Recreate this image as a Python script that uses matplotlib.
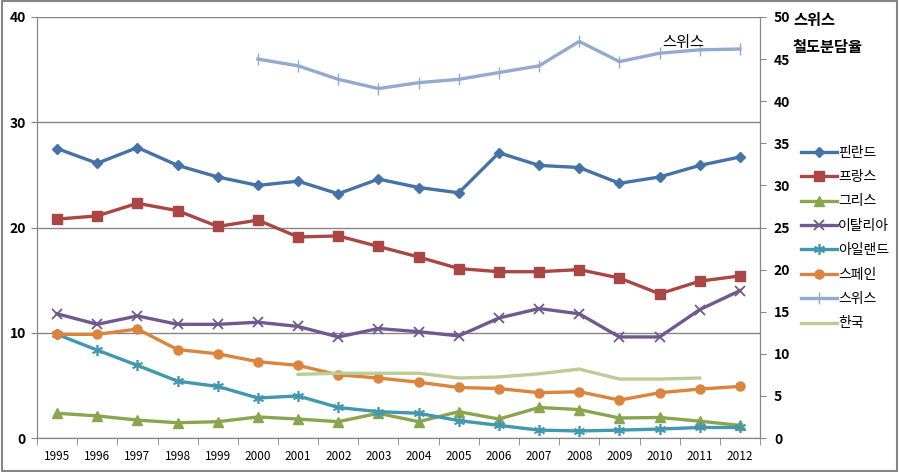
import matplotlib
matplotlib.use("Agg")
import matplotlib.pyplot as plt
from matplotlib.patches import Rectangle

plt.rcParams['font.family'] = ['Noto Sans CJK KR', 'DejaVu Sans']

years = list(range(1995, 2013))

finland = [27.5, 26.1, 27.6, 25.9, 24.8, 24.0, 24.4, 23.2, 24.6, 23.8, 23.3, 27.1, 25.9, 25.7, 24.2, 24.8, 25.9, 26.7]
france = [20.8, 21.1, 22.3, 21.6, 20.1, 20.7, 19.1, 19.2, 18.2, 17.2, 16.1, 15.8, 15.8, 16.0, 15.2, 13.7, 14.9, 15.4]
greece = [2.35, 2.1, 1.7, 1.45, 1.55, 2.0, 1.8, 1.55, 2.35, 1.55, 2.5, 1.8, 2.9, 2.7, 1.9, 1.95, 1.6, 1.2]
italy = [11.8, 10.8, 11.6, 10.8, 10.8, 11.0, 10.6, 9.6, 10.4, 10.1, 9.7, 11.4, 12.3, 11.8, 9.6, 9.6, 12.2, 14.0]
ireland = [9.85, 8.35, 6.9, 5.4, 4.9, 3.8, 4.0, 2.9, 2.5, 2.35, 1.65, 1.2, 0.75, 0.67, 0.75, 0.85, 1.0, 1.0]
spain = [9.85, 9.85, 10.35, 8.4, 8.0, 7.25, 6.9, 6.0, 5.7, 5.3, 4.8, 4.7, 4.3, 4.4, 3.6, 4.3, 4.65, 4.9]

# 스위스 (right axis), 2000-2012
swiss_years = list(range(2000, 2013))
swiss = [45.0, 44.2, 42.6, 41.5, 42.2, 42.6, 43.4, 44.2, 47.1, 44.7, 45.7, 46.1, 46.2]

# 한국, 2001-2011
korea_years = list(range(2001, 2012))
korea = [6.05, 6.15, 6.15, 6.15, 5.7, 5.8, 6.1, 6.55, 5.6, 5.6, 5.7]

x = list(range(len(years)))
xs = [years.index(y) for y in swiss_years]
xk = [years.index(y) for y in korea_years]

fig = plt.figure(figsize=(8.99, 4.72), dpi=100)
ax = fig.add_axes([37 / 899, 1 - 438 / 472, (760 - 37) / 899, (438 - 17) / 472])
ax2 = ax.twinx()

lw = 2.4
h1, = ax.plot(x, finland, color='#4572A7', lw=lw, marker='D', ms=5.5, label='핀란드')
h2, = ax.plot(x, france, color='#AA4643', lw=lw, marker='s', ms=6.5, label='프랑스')
h3, = ax.plot(x, greece, color='#89A54E', lw=lw, marker='^', ms=6.5, label='그리스')
h4, = ax.plot(x, italy, color='#71588F', lw=lw, marker='x', ms=7, mew=1.3, label='이탈리아')
h5, = ax.plot(x, ireland, color='#4198AF', lw=lw, marker=(6, 2, 0), ms=8, mew=1.2, label='아일랜드')
h6, = ax.plot(x, spain, color='#DB843D', lw=lw, marker='o', ms=6.5, label='스페인')
h8, = ax.plot(xk, korea, color='#B9CD96', lw=lw, label='한국')
h7, = ax2.plot(xs, swiss, color='#93A9CF', lw=lw, marker='|', ms=9, mew=1.0, label='스위스')

gray = '#868686'
ax.set_xlim(-0.5, 17.5)
ax.set_ylim(0, 40)
ax2.set_ylim(0, 50)
ax.set_yticks([0, 10, 20, 30, 40])
ax2.set_yticks(range(0, 51, 5))
ax.yaxis.grid(True, color=gray, lw=1)
ax.set_axisbelow(True)

ax.set_xticks(x)
ax.set_xticklabels([str(y) for y in years], fontsize=8.5)
ax.set_xticks([i - 0.5 for i in range(len(years) + 1)], minor=True)
ax.tick_params(axis='x', which='major', length=0, pad=9)
ax.tick_params(axis='x', which='minor', length=5, color=gray, direction='out')
ax.tick_params(axis='y', length=4, color=gray, labelsize=10, pad=4)
ax2.tick_params(axis='y', length=4, color=gray, labelsize=10, pad=6)
for lab in ax.get_yticklabels() + ax2.get_yticklabels():
    lab.set_fontweight('bold')

for a in (ax, ax2):
    a.spines['top'].set_visible(False)
    a.spines['left'].set_color(gray)
    a.spines['right'].set_color(gray)
    a.spines['bottom'].set_color(gray)

ax2.text(15.6, 46.0, '스위스', fontsize=11, ha='center', va='bottom')
fig.text(793 / 899, 1 - 20 / 472, '스위스', fontsize=11, fontweight='bold', va='center', ha='left')
fig.text(793 / 899, 1 - 47 / 472, '철도분담율', fontsize=11, fontweight='bold', va='center', ha='left')

fig.legend(handles=[h1, h2, h3, h4, h5, h6, h7, h8], loc='upper left',
           bbox_to_anchor=(795 / 899, 1 - 140 / 472), frameon=False,
           fontsize=10, handlelength=2.6, handletextpad=0.1, labelspacing=0.75,
           borderaxespad=0)

fig.patches.append(Rectangle((0.002, 0.003), 0.996, 0.994, transform=fig.transFigure,
                             fill=False, edgecolor=gray, lw=1.5))

fig.savefig('out.png', dpi=100)
